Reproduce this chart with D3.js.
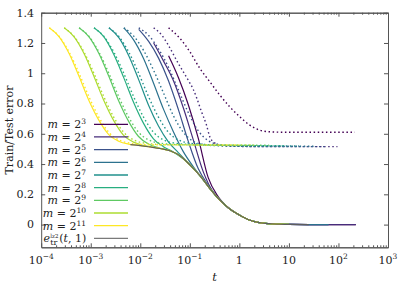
<!DOCTYPE html>
<html><head><meta charset="utf-8">
<script src="https://cdn.jsdelivr.net/npm/d3@7"></script>
<style>
html,body{margin:0;padding:0;background:#fff;}
svg{display:block;}
</style></head><body>
<svg id="c" width="411" height="288"></svg>
<script>
// ---------- data ----------
const mExponents = [3, 4, 5, 6, 7, 8, 9, 10, 11];
const xTickExps = [-4, -3, -2, -1, 0, 1, 2, 3];
const xTickBase = ["10", "10", "10", "10", "1", "10", "10", "10"];
const xTickSup  = ["−4", "−3", "−2", "−1", "", "", "2", "3"];
const yTicks = [0, 0.2, 0.4, 0.6, 0.8, 1, 1.2, 1.4];

// limiting train curve e_tr^lz2(t,1): log10 t and error
const limitLogT = [-2.6, -2.4, -2.2, -2.0, -1.8, -1.6, -1.4, -1.2, -1.0, -0.8, -0.6, -0.4, -0.2, 0, 0.2, 0.4, 0.6, 0.8, 1.0, 1.4, 1.8, 2.35];
const limitErr  = [0.535, 0.533, 0.528, 0.522, 0.513, 0.503, 0.488, 0.455, 0.395, 0.325, 0.24, 0.163, 0.105, 0.063, 0.03, 0.013, 0.006, 0.003, 0.001, 0, 0, 0];
const limitRange = [-2.2, 1.4];

// train error heads (before joining the limiting curve), one per m
const trainHeadLogT = [
  [-1.429, -1.229, -1.029, -0.829, -0.629, -0.429, -0.229],
  [-1.73, -1.53, -1.33, -1.13, -0.93, -0.73, -0.53],
  [-2.031, -1.831, -1.631, -1.431, -1.231, -1.031, -0.831, -0.631, -0.431, -0.231],
  [-2.332, -2.132, -1.932, -1.732, -1.532, -1.332, -1.132, -0.932, -0.732, -0.532],
  [-2.633, -2.433, -2.233, -2.033, -1.833, -1.633, -1.433, -1.233, -1.033, -0.833],
  [-2.934, -2.734, -2.534, -2.334, -2.134, -1.934, -1.734, -1.534, -1.334, -1.134],
  [-3.235, -3.035, -2.835, -2.635, -2.435, -2.235, -2.035, -1.835, -1.635, -1.435],
  [-3.536, -3.336, -3.136, -2.936, -2.736, -2.536, -2.336, -2.136, -1.936, -1.736],
  [-3.837, -3.637, -3.437, -3.237, -3.037, -2.837, -2.637, -2.437, -2.237, -2.037]
];
const trainHeadErr = [
  [1.115, 0.97, 0.79, 0.57, 0.31, 0.185, 0.113],
  [1.20, 1.08, 0.95, 0.77, 0.56, 0.35, 0.215],
  [1.29, 1.21, 1.10, 0.95, 0.76, 0.55, 0.37, 0.262, 0.176, 0.113],
  [1.30, 1.219, 1.096, 0.934, 0.763, 0.614, 0.482, 0.383, 0.298, 0.214],
  [1.30, 1.235, 1.116, 0.958, 0.789, 0.651, 0.546, 0.476, 0.408, 0.337],
  [1.30, 1.24, 1.124, 0.971, 0.807, 0.669, 0.567, 0.515, 0.48, 0.434],
  [1.30, 1.24, 1.13, 0.98, 0.817, 0.682, 0.582, 0.532, 0.508, 0.491],
  [1.30, 1.24, 1.13, 0.98, 0.82, 0.687, 0.59, 0.545, 0.523, 0.511],
  [1.30, 1.24, 1.13, 0.98, 0.82, 0.69, 0.595, 0.551, 0.532, 0.524]
];
const trainEndLogT = [2.35, 2.35, 1.8, 1.8, 1.0, 1.0, 1.0, 1.0, 1.0];

// test error, one per m
const testLogT = [
  [-1.429, -1.202, -1.0, -0.798, -0.597, -0.395, -0.194, 0.008, 0.21, 0.411, 0.613, 1.0, 1.5, 2.33],
  [-1.73, -1.57, -1.437, -1.235, -1.034, -0.933, -0.865, -0.764, -0.663, -0.597, -0.5, -0.4, -0.2, 0.5, 1.98],
  [-2.031, -1.831, -1.631, -1.431, -1.231, -1.031, -0.831, -0.631, -0.431, -0.231, 0.5, 1.75],
  [-2.332, -2.132, -1.932, -1.732, -1.532, -1.332, -1.132, -0.932, -0.732, -0.532, 0.5, 1.5],
  [-2.633, -2.433, -2.233, -2.033, -1.833, -1.633, -1.433, -1.233, -1.033, -0.833, -0.633, 0.5, 1.2],
  [-2.934, -2.734, -2.534, -2.334, -2.134, -1.934, -1.734, -1.534, -1.334, -1.134, -0.934, 0.0, 0.9],
  [-3.235, -3.035, -2.835, -2.635, -2.435, -2.235, -2.035, -1.835, -1.635, -1.435, -1.235, 0.0, 0.6],
  [-3.536, -3.336, -3.136, -2.936, -2.736, -2.536, -2.336, -2.136, -1.936, -1.736, -1.536, -0.5, 0.3],
  [-3.837, -3.637, -3.437, -3.237, -3.037, -2.837, -2.637, -2.437, -2.237, -2.037, -1.837, -0.5, 0.0]
];
const testErr = [
  [1.30, 1.231, 1.142, 1.032, 0.944, 0.856, 0.778, 0.712, 0.657, 0.624, 0.613, 0.61, 0.61, 0.61],
  [1.30, 1.253, 1.187, 1.066, 0.955, 0.895, 0.84, 0.745, 0.657, 0.58, 0.54, 0.525, 0.518, 0.515, 0.515],
  [1.30, 1.25, 1.16, 1.04, 0.89, 0.74, 0.62, 0.555, 0.53, 0.522, 0.515, 0.515],
  [1.30, 1.245, 1.15, 1.02, 0.87, 0.72, 0.61, 0.55, 0.53, 0.522, 0.518, 0.518],
  [1.30, 1.243, 1.14, 1.00, 0.845, 0.71, 0.61, 0.56, 0.54, 0.532, 0.528, 0.52, 0.52],
  [1.30, 1.243, 1.14, 1.00, 0.845, 0.71, 0.61, 0.56, 0.54, 0.532, 0.528, 0.522, 0.522],
  [1.30, 1.243, 1.14, 1.00, 0.845, 0.71, 0.61, 0.56, 0.54, 0.532, 0.528, 0.524, 0.524],
  [1.30, 1.243, 1.14, 1.00, 0.845, 0.71, 0.61, 0.56, 0.54, 0.532, 0.528, 0.526, 0.526],
  [1.30, 1.243, 1.14, 1.00, 0.845, 0.71, 0.61, 0.56, 0.54, 0.532, 0.528, 0.526, 0.526]
];

// ---------- drawing ----------
const FONT = "DejaVu Serif, Liberation Serif, serif";
const svg = d3.select("#c");
const L = 41.2, R = 388, T = 12.7, B = 247.3;
const x = d3.scaleLog().domain([1e-4, 1e3]).range([L, R]);
const y = d3.scaleLinear().domain([-0.15, 1.4]).range([B, T]);
const color = i => d3.interpolateViridis(i / (mExponents.length - 1));
const axisCol = "#555", textCol = "#222";

svg.append("defs").append("clipPath").attr("id", "clip")
  .append("rect").attr("x", L).attr("y", T).attr("width", R - L).attr("height", B - T);

const line = d3.line().x(d => x(Math.pow(10, d[0]))).y(d => y(d[1])).curve(d3.curveMonotoneX);
const plot = svg.append("g").attr("clip-path", "url(#clip)");

function trainSeries(i) {
  const h = trainHeadLogT[i].map((t, j) => [t, trainHeadErr[i][j]]);
  const last = trainHeadLogT[i][trainHeadLogT[i].length - 1];
  limitLogT.forEach((t, j) => { if (t > last + 0.05 && t <= trainEndLogT[i] + 1e-9) h.push([t, limitErr[j]]); });
  return h;
}

mExponents.forEach((m, i) => {
  plot.append("path").datum(trainSeries(i)).attr("d", line)
    .attr("fill", "none").attr("stroke", color(i)).attr("stroke-width", 1.2);
  plot.append("path").datum(testLogT[i].map((t, j) => [t, testErr[i][j]])).attr("d", line)
    .attr("fill", "none").attr("stroke", color(i)).attr("stroke-width", 1.4)
    .attr("stroke-dasharray", "1.5,2.6");
});
const limitPts = limitLogT.map((t, j) => [t, limitErr[j]]).filter(d => d[0] >= limitRange[0] && d[0] <= limitRange[1]);
plot.append("path").datum(limitPts).attr("d", line)
  .attr("fill", "none").attr("stroke", "#5e5e5e").attr("stroke-width", 1.2);

// ---------- axes ----------
const majors = xTickExps.map(e => Math.pow(10, e));
const minors = [];
for (let e = -4; e < 3; e++) for (let k = 2; k <= 9; k++) minors.push(k * Math.pow(10, e));

function styleAxis(g) {
  g.selectAll("path,line").attr("stroke", axisCol);
  g.select(".domain").attr("stroke-width", 1);
  g.selectAll("text").remove();
}
svg.append("g").attr("transform", `translate(0,${B})`)
  .call(d3.axisBottom(x).tickValues(majors).tickSize(-4).tickSizeOuter(0).tickFormat("")).call(styleAxis);
svg.append("g").attr("transform", `translate(0,${B})`)
  .call(d3.axisBottom(x).tickValues(minors).tickSize(-2).tickSizeOuter(0).tickFormat("")).call(styleAxis);
svg.append("g").attr("transform", `translate(0,${T})`)
  .call(d3.axisTop(x).tickValues(majors).tickSize(-4).tickSizeOuter(0).tickFormat("")).call(styleAxis);
svg.append("g").attr("transform", `translate(0,${T})`)
  .call(d3.axisTop(x).tickValues(minors).tickSize(-2).tickSizeOuter(0).tickFormat("")).call(styleAxis);
svg.append("g").attr("transform", `translate(${L},0)`)
  .call(d3.axisLeft(y).tickValues(yTicks).tickSize(-4).tickSizeOuter(0).tickFormat("")).call(styleAxis);
svg.append("g").attr("transform", `translate(${R},0)`)
  .call(d3.axisRight(y).tickValues(yTicks).tickSize(-4).tickSizeOuter(0).tickFormat("")).call(styleAxis);

function txt(sel) { return sel.append("text").attr("font-family", FONT).attr("fill", textCol); }

// x tick labels
xTickExps.forEach((e, i) => {
  const t = txt(svg).attr("x", x(majors[i])).attr("y", 264)
    .attr("text-anchor", "middle").attr("font-size", 11);
  t.append("tspan").text(xTickBase[i]);
  if (xTickSup[i]) t.append("tspan").attr("dy", -5).attr("font-size", 7.5).text(xTickSup[i]);
});
// y tick labels
yTicks.forEach(v => {
  txt(svg).attr("x", 34).attr("y", y(v)).attr("dy", "0.35em")
    .attr("text-anchor", "end").attr("font-size", 11).text(d3.format("~g")(v));
});
// axis titles
txt(svg).attr("transform", `translate(13,${(T + B) / 2}) rotate(-90)`)
  .attr("text-anchor", "middle").attr("font-size", 11)
  .text("Train/Test error");
txt(svg).attr("x", (L + R) / 2).attr("y", 281).attr("text-anchor", "middle")
  .attr("font-size", 11.5).attr("font-style", "italic").text("t");

// ---------- legend ----------
const legY0 = 124.3, legDy = 12.67, legX1 = 94, legX2 = 128, legTextX = 86;
mExponents.forEach((m, i) => {
  const yy = legY0 + i * legDy;
  svg.append("line").attr("x1", legX1).attr("x2", legX2).attr("y1", yy).attr("y2", yy)
    .attr("stroke", color(i)).attr("stroke-width", 1.3);
  const t = txt(svg).attr("x", legTextX).attr("y", yy + 4)
    .attr("text-anchor", "end").attr("font-size", 11);
  t.append("tspan").attr("font-style", "italic").text("m");
  t.append("tspan").text(" = 2");
  t.append("tspan").attr("dy", -4).attr("font-size", 7.5).text(String(m));
});
{
  const yy = legY0 + 9 * legDy;
  svg.append("line").attr("x1", legX1).attr("x2", legX2).attr("y1", yy).attr("y2", yy)
    .attr("stroke", "#7a7a7a").attr("stroke-width", 1.3);
  const g = svg.append("g");
  let cx = 43.5;
  const e = txt(g).attr("x", cx).attr("y", yy + 4).attr("font-size", 11)
    .attr("font-style", "italic").text("e");
  cx += e.node().getComputedTextLength() + 0.3;
  const sup = txt(g).attr("x", cx).attr("y", yy - 0.5).attr("font-size", 5.5).text("lz2");
  const sub = txt(g).attr("x", cx).attr("y", yy + 7).attr("font-size", 8).text("tr");
  cx += Math.max(sup.node().getComputedTextLength(), sub.node().getComputedTextLength()) + 0.8;
  const rest = txt(g).attr("x", cx).attr("y", yy + 4).attr("font-size", 11);
  rest.append("tspan").text("(");
  rest.append("tspan").attr("font-style", "italic").text("t");
  rest.append("tspan").text(", 1)");
}
</script>
</body></html>
